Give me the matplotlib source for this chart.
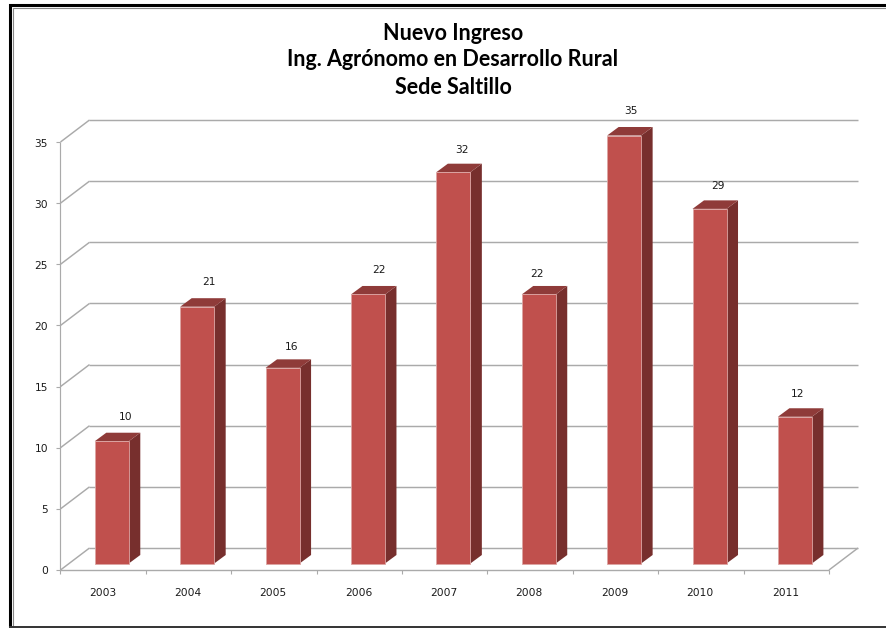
import matplotlib
matplotlib.use("Agg")
import matplotlib.pyplot as plt
from matplotlib.patches import Polygon, Rectangle
from matplotlib.lines import Line2D

years = ["2003", "2004", "2005", "2006", "2007", "2008", "2009", "2010", "2011"]
ingreso = [10, 21, 16, 22, 32, 22, 35, 29, 12]
y_ticks = [0, 5, 10, 15, 20, 25, 30, 35]
title_lines = ["Nuevo Ingreso", "Ing. Agrónomo en Desarrollo Rural", "Sede Saltillo"]

W, H = 887, 628
fig = plt.figure(figsize=(W / 100, H / 100), dpi=100, facecolor="white")

# plot frame in pixels
X0, X1, Y0, Y35 = 60.5, 829.0, 570.0, 142.0
ax = fig.add_axes([X0 / W, 1 - Y0 / H, (X1 - X0) / W, (Y0 - Y35) / H])
ax.set_xlim(0, len(years))
ax.set_ylim(0, 35)
ax.axis("off")
sx = len(years) / (X1 - X0)       # data units per pixel
sy = 35 / (Y0 - Y35)

GRID = "#aaaaaa"
FRONT, SIDE, TOP = "#c0504d", "#772f2d", "#8f3b39"
EDGE = "#dca5a3"
TXT = "#1a1a1a"
dx, dy = 29 * sx, 22 * sy         # wall depth


def line(xs, ys, lw=1.05, c=GRID, z=1):
    ax.add_line(Line2D(xs, ys, color=c, lw=lw, clip_on=False, zorder=z, solid_capstyle="butt"))


# back wall gridlines + left wall diagonals
for v in y_ticks:
    line([dx, len(years) + dx], [v + dy, v + dy])
    line([0, dx], [v, v + dy])
    line([-4 * sx, 0], [v, v], lw=0.8)
    ax.text(-12.5 * sx, v - 1.5 * sy, str(v), ha="right", va="center", fontsize=7.7, color=TXT,
            family="DejaVu Sans")

# floor and axes
line([0, 0], [0, 35], lw=0.85)
line([0, len(years)], [0, 0], lw=1.0)
line([len(years), len(years) + dx], [0, dy])
for i in range(len(years) + 1):
    line([i, i], [0, -4 * sy], lw=0.8)

# bars
bw = 34 * sx
off_x, off_y = 8.6 * sx - bw / 2 + 0.5, 6.5 * sy
ddx, ddy = 11.5 * sx, 8.5 * sy
label_dx = [14, 12, 9, 11, 9, -2, 7, 8, 3]
label_dy = [24.5, 24.5, 20.5, 24.5, 22.5, 20.5, 24.5, 22.5, 22.5]

for i, (yr, v) in enumerate(zip(years, ingreso)):
    l = i + off_x
    r = l + bw
    b = off_y
    t = b + v
    ax.add_patch(Polygon([(r, b), (r + ddx, b + ddy), (r + ddx, t + ddy), (r, t)],
                         fc=SIDE, ec="none", clip_on=False, zorder=3))
    ax.add_patch(Polygon([(l, t), (l + ddx, t + ddy), (r + ddx, t + ddy), (r, t)],
                         fc=TOP, ec="none", clip_on=False, zorder=3))
    ax.add_patch(Rectangle((l, b), bw, v, fc=FRONT, ec=EDGE, lw=0.6, clip_on=False, zorder=4))
    ax.text(l + bw / 2 + label_dx[i] * sx, t + label_dy[i] * sy, str(v), ha="center", va="center",
            fontsize=7.7, color=TXT, family="DejaVu Sans", zorder=5)
    ax.text(i + 0.49, -22.5 * sy, yr, ha="center", va="center", fontsize=7.7, color=TXT,
            family="DejaVu Sans")

# title
for txt, py in zip(title_lines, [33, 60, 88]):
    fig.text(453 / W, 1 - py / H, txt, ha="center", va="center", fontsize=15.5,
             fontweight="bold", family="Lato", color="black")


# outer picture frame (open on the right)
def frame(xs, ys, lw, c):
    fig.add_artist(Line2D([x / W for x in xs], [1 - y / H for y in ys], color=c, lw=lw,
                          solid_joinstyle="miter", solid_capstyle="butt"))


frame([W, 10.5, 10.5], [5.3, 5.3, 627], 2.2, "black")
frame([W, 13.3, 13.3], [8, 8, 626], 0.8, "#888888")
frame([9, W], [626.5, 626.5], 1.4, "#333333")

fig.savefig("out.png", dpi=100, facecolor="white")
